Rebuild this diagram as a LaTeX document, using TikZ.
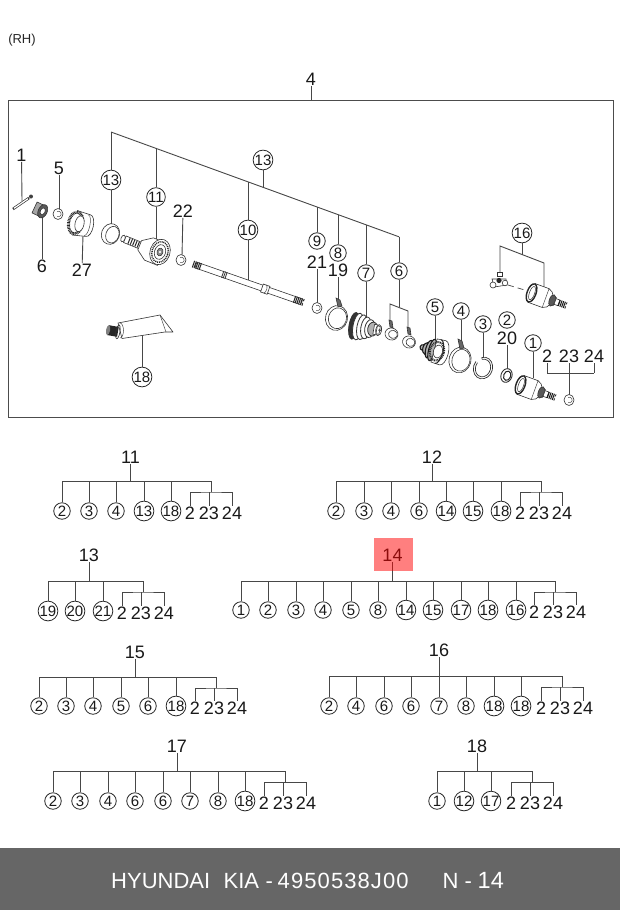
\documentclass[tikz,border=0pt]{standalone}
\usepackage{fontspec}
\setmainfont{Liberation Sans}
\newfontfamily\footdigits[LetterSpace=5]{Liberation Sans}
\tikzset{
  x=1pt,y=-1pt,
  conn/.style={draw=black!72,line width=.9pt},
  lbl/.style={inner sep=0.5pt,font=\fontsize{18}{18}\selectfont,text=black!90},
  circ/.style={circle,draw=black!85,line width=.8pt,fill=white,inner sep=0pt,minimum size=16.5pt,font=\fontsize{15}{15}\selectfont,text=black!90},
  part/.style={draw=black!80,line width=.6pt,fill=white},
  thin part/.style={draw=black!70,line width=.5pt},
  teeth/.style={draw=black!85,line width=3pt,dash pattern=on .8pt off .7pt},
}
% id, root x, root label y, bar y, circle y, children, bracket left x
\newcommand{\parttree}[7]{
  \node[lbl] (t#1r) at (#2,#3) {#1};
  \foreach \cx/\ct [count=\ci] in {#6}{
    \coordinate (t#1j\ci) at (\cx,#4);
    \node[circ] (t#1c\ci) at (\cx,#5) {\ct};
    \draw[conn] (t#1j\ci) -- (t#1c\ci.north);
  }
  \coordinate (t#1top) at (#2,#4);
  \draw[conn] (t#1r.south) -- (t#1top);
  \coordinate (t#1end) at (#7+21,#4);
  \draw[conn] (t#1j1) -- (t#1end);
  \node[lbl] (t#1a) at (#7,#5+2) {2};
  \node[lbl] (t#1b) at (#7+19,#5+2) {23};
  \node[lbl] (t#1d) at (#7+42,#5+2) {24};
  \coordinate (t#1m) at (#7+21,#4+11);
  \draw[conn] (t#1end) -- (t#1m);
  \draw[conn] (t#1a.north) |- (t#1m) -| (t#1d.north);
  \draw[conn] (t#1b.north) -- (t#1b.north |- t#1m);
}
% small clip ring
\newcommand{\cliprg}[2]{
  \draw[draw=black!80,line width=.6pt,fill=white] (#1,#2) ellipse [x radius=5,y radius=5.5];
  \draw[thin part] (#1-1,#2-2.5) arc (-120:120:2.8);
}
% outer joint body, in a rotated scope
\newcommand{\jointbody}{
  \draw[part] (-9,-10) -- (6,-10) -- (10,-8) -- (12,-5) -- (16,-4) -- (16,4) -- (12,5) -- (10,8) -- (6,10) -- (-9,10) -- cycle;
  \draw[thin part] (6,-10) -- (6,10);
  \draw[draw=black!85,line width=1.4pt,fill=white] (-9,0) ellipse [x radius=4.5,y radius=9.5];
  \draw[draw=black!80,line width=.5pt] (-8.5,0) ellipse [x radius=2.6,y radius=7];
  \draw[part,fill=black!65] (13,0) ellipse [x radius=3,y radius=6];
  \draw[part] (16,-3) rectangle (20,3);
  \draw[draw=black!90,line width=6.5pt,dash pattern=on 1pt off .8pt] (20,0) -- (28,0);
  \fill[white] (28,0) circle (1.3);
}
\begin{document}
\begin{tikzpicture}
\useasboundingbox (0,0) rectangle (620,910);
\fill[white] (0,0) rectangle (620,910);
\node[inner sep=0,font=\fontsize{13}{13}\selectfont,text=black!85] (rh) at (22,40) {(RH)};

% frame
\coordinate (frameTop) at (311,100);
\draw[draw=black!70,line width=1pt] (8.5,100.5) rectangle (613,417);
\node[lbl] (m4) at (311,79) {4};
\draw[conn] (m4.south) -- (frameTop);

% slanted leader
\coordinate (sA) at (111,132);
\coordinate (sB) at (156,148.4);
\coordinate (sC) at (248,182);
\coordinate (sD) at (263,187.4);
\coordinate (sE) at (317,207);
\coordinate (sF) at (338,214.7);
\coordinate (sG) at (366,224.8);
\coordinate (sH) at (399,236.8);
\draw[conn] (sA) -- (sH);

\node[circ] (c13a) at (111,180) {13};
\node[circ] (c11) at (156,197) {11};
\node[circ] (c10) at (248,230) {10};
\node[circ] (c13b) at (263,160) {13};
\node[circ] (c9) at (317,241) {9};
\node[circ] (c8) at (338,253) {8};
\node[circ] (c7) at (366,273) {7};
\node[circ] (c6) at (399,271) {6};
\node[circ] (c18) at (142,377) {18};
\node[circ] (c5) at (435,307) {5};
\node[circ] (c4) at (461,311) {4};
\node[circ] (c3) at (483,324) {3};
\node[circ] (c2) at (507,320) {2};
\node[circ] (c1) at (533,343) {1};
\node[circ] (c16) at (522,233) {16};
\node[lbl] (l1) at (21.5,155) {1};
\node[lbl] (l5) at (59,168) {5};
\node[lbl] (l6) at (42,266) {6};
\node[lbl] (l27) at (82,270) {27};
\node[lbl] (l22) at (183,211) {22};
\node[lbl] (l21) at (317,262) {21};
\node[lbl] (l19) at (338,270) {19};
\node[lbl] (l20) at (507,338) {20};
\node[lbl] (l2) at (547,356) {2};
\node[lbl] (l23) at (569,356) {23};
\node[lbl] (l24) at (594,356) {24};

\coordinate (p1) at (22,201);
\coordinate (p5) at (59,210);
\coordinate (p6) at (42,212);
\coordinate (p27) at (83,235);
\coordinate (p13a) at (111,227);
\coordinate (p11) at (156,242);
\coordinate (p10) at (248,280);
\coordinate (p22) at (182,256);
\coordinate (p18) at (142,335);
\coordinate (p21) at (317,304);
\coordinate (p19) at (338,300);
\coordinate (p7) at (366,318);
\coordinate (p5b) at (435,340);
\coordinate (p4) at (461,342);
\coordinate (p3) at (483,358);
\coordinate (p20) at (507,371);
\coordinate (p1b) at (533,378);
\coordinate (p6j) at (399,307);
\coordinate (p6l) at (390,304);
\coordinate (p6r) at (408,311);
\coordinate (p6lb) at (390,323);
\coordinate (p6rb) at (408,329);
\coordinate (q16) at (522,255);
\coordinate (q16l) at (500,246);
\coordinate (q16r) at (544,263);
\coordinate (q16lb) at (500,274);
\coordinate (q16rb) at (544,287);
\coordinate (r2) at (547,373);
\coordinate (r23) at (569,373);
\coordinate (r24) at (594,373);
\coordinate (r) at (569,396);

\draw[conn] (sA) -- (c13a) -- (p13a);
\draw[conn] (sB) -- (c11) -- (p11);
\draw[conn] (sC) -- (c10) -- (p10);
\draw[conn] (sD) -- (c13b);
\draw[conn] (sE) -- (c9);
\draw[conn] (sF) -- (c8);
\draw[conn] (sG) -- (c7) -- (p7);
\draw[conn] (sH) -- (c6) -- (p6j);
\draw[conn] (p6lb) -- (p6l) -- (p6r) -- (p6rb);
\draw[conn] (c16) -- (q16);
\draw[conn] (q16lb) -- (q16l) -- (q16r) -- (q16rb);
\draw[conn] (l1) -- (p1);
\draw[conn] (l5) -- (p5);
\draw[conn] (l6) -- (p6);
\draw[conn] (l27) -- (p27);
\draw[conn] (l22) -- (p22);
\draw[conn] (l21) -- (p21);
\draw[conn] (l19) -- (p19);
\draw[conn] (l20) -- (p20);
\draw[conn] (c18) -- (p18);
\draw[conn] (c5) -- (p5b);
\draw[conn] (c4) -- (p4);
\draw[conn] (c3) -- (p3);
\draw[conn] (c1) -- (p1b);
\draw[conn] (l2) -- (r2);
\draw[conn] (l24) -- (r24);
\draw[conn] (r2) -- (r24);
\draw[conn] (l23) -- (r);

% bolt 1
\draw[draw=black!80,line width=2.6pt] (13,209) -- (29,198);
\draw[draw=white,line width=1.2pt] (14,208.3) -- (28,198.7);
\fill[black!75] (31,196.5) circle (2);

% nut 6
\begin{scope}[shift={(40,210)},rotate=-25]
  \draw[part,fill=black!35] (-6,-6) rectangle (3,6);
  \draw[part,fill=black!65] (3,0) ellipse [x radius=4.5,y radius=7];
  \draw[part,fill=white] (3,0) ellipse [x radius=2.4,y radius=3.5];
\end{scope}

% ring 5
\cliprg{58}{214}

% gear ring 27
\begin{scope}[shift={(80.5,224)},rotate=-12]
  \draw[part] (-6,-12.5) -- (8,-11) arc (-90:90:5 and 11) -- (-6,12.5);
  \draw[teeth] (-5,0) ellipse [x radius=7,y radius=11];
  \draw[part] (-1,0) ellipse [x radius=4.5,y radius=8];
  \draw[thin part] (6,-10.5) arc (-90:90:3.5 and 10.5);
\end{scope}

% ring 13
\begin{scope}[shift={(110.5,234)},rotate=-20]
  \draw[part] (0,0) ellipse [x radius=9,y radius=10.5];
  \draw[part] (2,0) ellipse [x radius=6.5,y radius=8.5];
\end{scope}

% outer joint 11
\begin{scope}[shift={(123,238.5)},rotate=-22]
  \draw[part] (2,-3.5) rectangle (20,3.5);
  \draw[draw=black!85,line width=6pt,dash pattern=on 1pt off 1.5pt] (6,0) -- (19,0);
  \draw[part] (0,0) ellipse [x radius=2,y radius=3.5];
  \draw[part] (18,-5) -- (28,-12) -- (42,-12) -- (42,12) -- (28,12) -- (18,5) -- cycle;
\end{scope}
\begin{scope}[shift={(160,252)},rotate=-18]
  \draw[part] (0,0) ellipse [x radius=10,y radius=13];
  \draw[draw=black!85,line width=1.5pt,dash pattern=on 1pt off .9pt] (0,0) ellipse [x radius=8,y radius=10.5];
  \draw[part] (0,0) ellipse [x radius=5.5,y radius=7.5];
  \draw[part,fill=black!45] (0,0) ellipse [x radius=3,y radius=4];
  \fill[white] (0,0) circle (1.2);
\end{scope}

% clip 22
\cliprg{181}{260}

% shaft 10
\begin{scope}[shift={(193,264)},rotate=-19.2]
  \draw[part] (3,-3) -- (115,-3) -- (115,3) -- (3,3) -- cycle;
  \draw[draw=black!85,line width=7pt,dash pattern=on 1pt off .8pt] (0,0) -- (9,0);
  \draw[draw=black!85,line width=7pt,dash pattern=on 1pt off .8pt] (107,0) -- (117,0);
  \fill[white] (117,0) circle (1.4);
  \draw[draw=black!80,line width=7pt,dash pattern=on .8pt off 1pt] (31,0) -- (36,0);
  \draw[part] (73,-4.2) rectangle (80,4.2);
  \draw[thin part] (76,-4.2) arc (-90:90:2 and 4.2);
\end{scope}

% tube 18
\draw[part,line join=round] (118,323) -- (160,315) -- (173,332) -- (165,332) -- (122,338.5) -- cycle;
\draw[thin part] (160,315) -- (166,332);
\draw[thin part] (120,323) arc (-90:90:3.5 and 7.5);
\begin{scope}[shift={(113,331)},rotate=-10]
  \fill[black!85] (-5,-5) rectangle (5,5);
  \fill[black!50] (-5,0) ellipse [x radius=2,y radius=5];
  \draw[part,fill=none] (5,0) ellipse [x radius=2,y radius=7];
\end{scope}

% clip 21
\cliprg{317}{308}

% clamp 19
\begin{scope}[shift={(336.5,318)},rotate=-15]
  \draw[part] (0,0) ellipse [x radius=11,y radius=12.5];
  \draw[part] (1,0) ellipse [x radius=9,y radius=10.5];
\end{scope}
\draw[part,fill=black!60] (336,298) -- (340,300) -- (342,306) -- (338,307) -- cycle;

% boot 7
\begin{scope}[shift={(355,326)},rotate=-10]
  \foreach \bx/\by/\bf [count=\bi] in {-1/13.5/80,3/13.5/0,7/12.5/0,11/11/0,15/9/0,18/7/30}{
    \draw[draw=black!80,line width=.8pt,fill=black!\bf] (\bx,0) ellipse [x radius=5,y radius=\by];
  }
  \draw[part] (19,-5) rectangle (24,5);
  \draw[part] (24,0) ellipse [x radius=3,y radius=5.5];
  \draw[part] (22,-4) rectangle (25,4);
  \fill[black!70] (25,0) circle (1.4);
\end{scope}

% clips 6
\begin{scope}[shift={(391.5,334)},rotate=-15]
  \draw[part] (0,0) ellipse [x radius=6.5,y radius=6];
  \draw[part] (1.5,0) ellipse [x radius=4.5,y radius=4];
\end{scope}
\begin{scope}[shift={(409,342)},rotate=-15]
  \draw[part] (0,0) ellipse [x radius=6.5,y radius=6];
  \draw[part] (1.5,0) ellipse [x radius=4.5,y radius=4];
\end{scope}
\draw[part,fill=black!60] (389,320) -- (392,321) -- (393,328) -- (390,327) -- cycle;
\draw[part,fill=black!60] (407,327) -- (410,328) -- (411,335) -- (408,334) -- cycle;

% boot 5
\begin{scope}[shift={(436,351)},rotate=-15]
  \foreach \bx/\by [count=\bi] in {-13/3,-10/6,-7/9,-4/11}{
    \draw[draw=black!90,line width=1.1pt,fill=black!30] (\bx,0) ellipse [x radius=3.5,y radius=\by];
  }
  \draw[part] (-2,-12) -- (7,-12.5) arc (-90:90:5.5 and 12.5) -- (-2,12) -- cycle;
  \draw[draw=black!85,line width=1pt] (2,-12.3) arc (-90:90:5 and 12.3);
  \draw[draw=black!85,line width=2pt,dash pattern=on 1pt off .8pt] (1,0) ellipse [x radius=7,y radius=9.5];
  \draw[part] (2,0) ellipse [x radius=4.5,y radius=6.5];
\end{scope}

% clamp 4
\begin{scope}[shift={(460,360)},rotate=-15]
  \draw[part] (0,0) ellipse [x radius=11,y radius=13];
  \draw[part] (1,0) ellipse [x radius=9,y radius=11];
\end{scope}
\draw[part,fill=black!60] (458,339) -- (462,341) -- (464,348) -- (460,349) -- cycle;

% snap ring 3
\begin{scope}[shift={(483,368)},rotate=-20]
  \draw[draw=black!80,line width=.7pt] (-120:9.5 and 11) arc (-120:200:9.5 and 11);
  \draw[draw=black!80,line width=.7pt] (-120:7.5 and 9) arc (-120:200:7.5 and 9);
  \draw[draw=black!80,line width=.7pt] (-120:9.5 and 11) -- (-120:7.5 and 9);
\end{scope}

% ring 20
\begin{scope}[shift={(506.5,375.5)},rotate=-20]
  \draw[part,line width=.9pt] (0,0) ellipse [x radius=5.5,y radius=7];
  \draw[draw=black!85,line width=1pt] (.7,0) ellipse [x radius=3.5,y radius=4.8];
\end{scope}

% joint 1
\begin{scope}[shift={(529,388)},rotate=-20]
  \jointbody
\end{scope}

% clip 2/23/24
\cliprg{569}{400}

% joint 16
\begin{scope}[shift={(540,296)},rotate=-20]
  \jointbody
\end{scope}

% tripod
\draw[conn,dash pattern=on 6pt off 4pt,line width=.7pt] (508,285) -- (528,291);
\draw[part] (497,272) rectangle (502,276);
\draw[part] (492,279) -- (506,279) -- (507,285) -- (494,287) -- cycle;
\draw[part] (493,285) circle (3);
\draw[part] (505,283) circle (2.8);
\fill[black!85] (499,280.5) circle (2.6);

% trees
\parttree{11}{130.5}{457}{481}{511}{62/2,89/3,116/4,144/13,171/18}{190}
\parttree{12}{432}{457}{481}{511}{336/2,364/3,391/4,419/6,446/14,473/15,501/18}{520}
\parttree{13}{89}{555}{581}{611}{48/19,75/20,103/21}{122}
\parttree{14}{392.5}{555}{581}{610}{241/1,268/2,296/3,323/4,351/5,378/8,406/14,433/15,461/17,488/18,516/16}{534}
\parttree{15}{135}{652}{677}{706}{39/2,66/3,93/4,121/5,148/6,176/18}{195}
\parttree{16}{439}{650}{676}{706}{329/2,356/4,384/6,411/6,439/7,466/8,494/18,521/18}{541}
\parttree{17}{177}{746}{771}{801}{53/2,80/3,108/4,135/6,163/6,190/7,218/8,245/18}{264}
\parttree{18}{477}{746}{771}{801}{437/1,464/12,491/17}{511}

% highlight
\fill[red,opacity=.5] (374,538) rectangle (413,571);

% footer
\fill[black!60] (0,848) rectangle (620,910);
\node[inner sep=0,text=white,font=\fontsize{22}{22}\selectfont,anchor=west] (foot) at (111,881) {\makebox[112.5pt][l]{HYUNDAI}\makebox[42pt][l]{KIA}\makebox[12pt][l]{-}\makebox[165pt][l]{\footdigits 4950538J00}\makebox[22pt][l]{N}\makebox[13pt][l]{-}{\fontsize{23.5}{23.5}\selectfont 14}};
\end{tikzpicture}
\end{document}
